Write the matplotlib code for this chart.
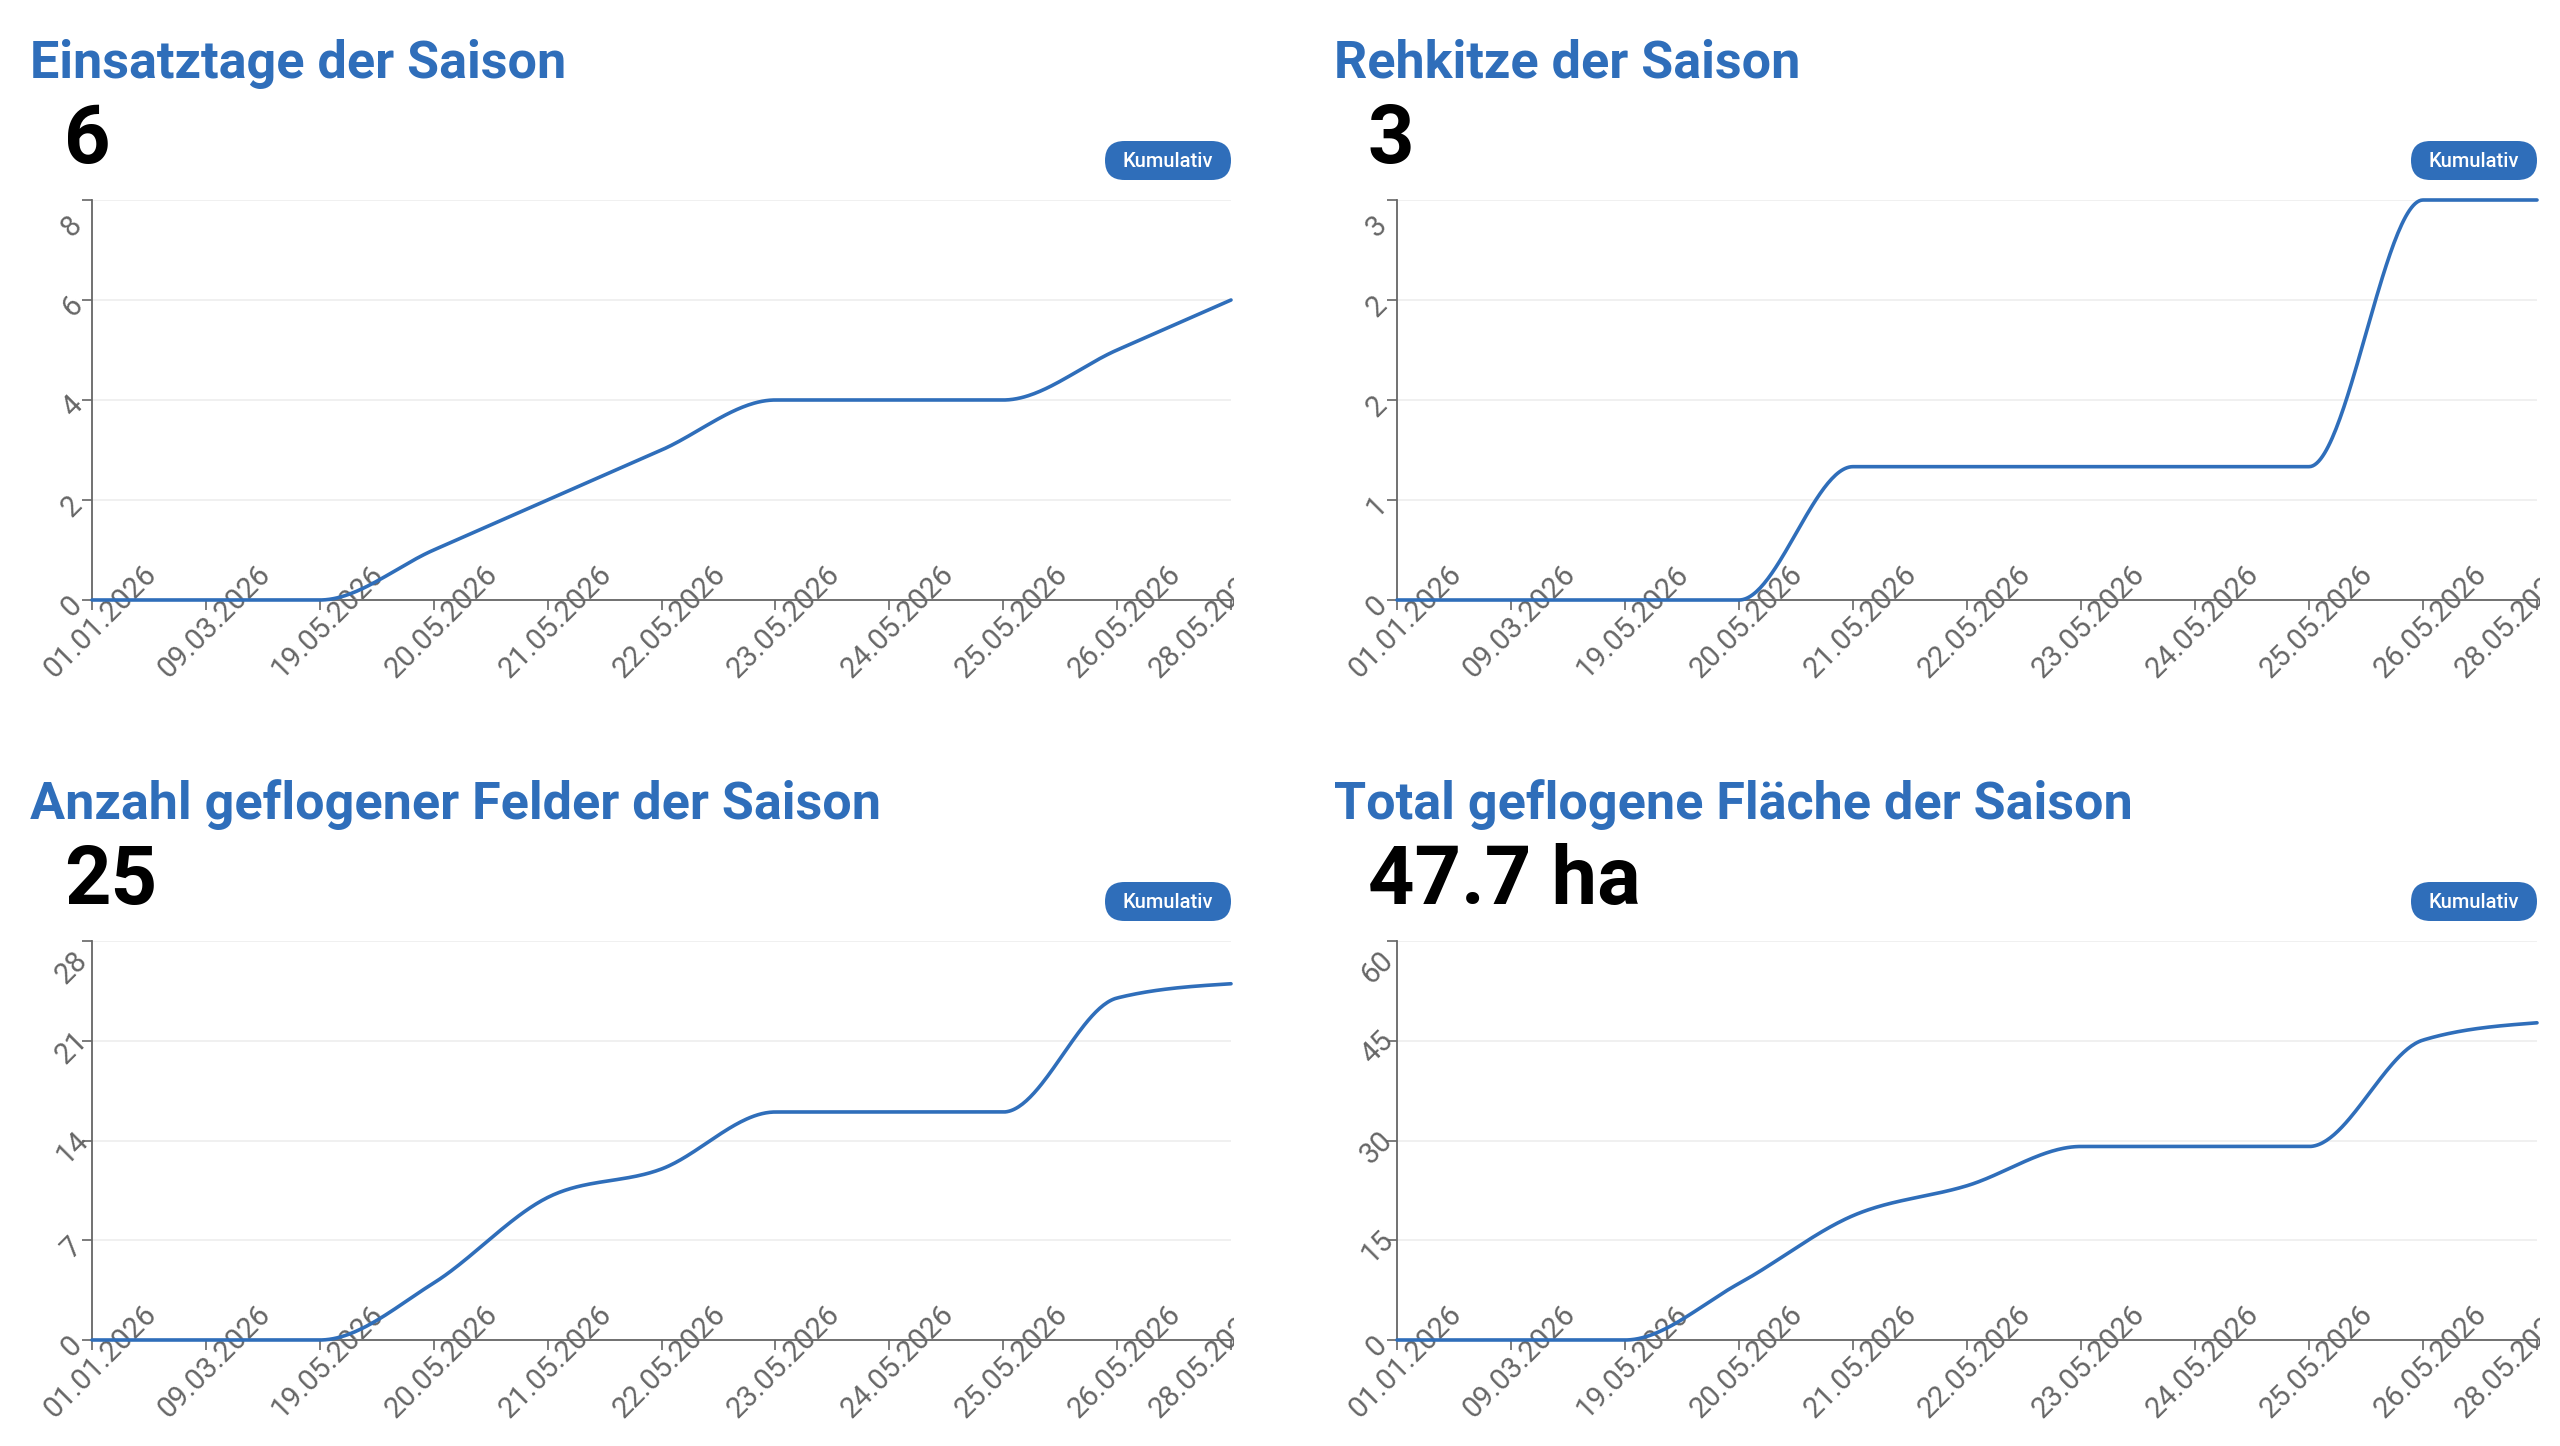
import numpy as np
import matplotlib
matplotlib.use("Agg")
import matplotlib.pyplot as plt
from matplotlib.patches import FancyBboxPatch
from matplotlib.transforms import ScaledTranslation, Bbox

plt.rcParams['font.family'] = ['Roboto', 'DejaVu Sans']

# x categories (point scale)
dates = ["01.01.2026", "09.03.2026", "19.05.2026", "20.05.2026", "21.05.2026", "22.05.2026",
         "23.05.2026", "24.05.2026", "25.05.2026", "26.05.2026", "28.05.2026"]

# cumulative series, one per panel
einsatztage = [0, 0, 0, 1, 2, 3, 4, 4, 4, 5, 6]
rehkitze = [0, 0, 0, 0, 1, 1, 1, 1, 1, 3, 3]
felder = [0, 0, 0, 4, 10, 12, 16, 16, 16, 24, 25]
flaeche = [0, 0, 0, 8.5, 18.7, 23.2, 29.1, 29.1, 29.1, 45.1, 47.7]

titles = ["Einsatztage der Saison", "Rehkitze der Saison",
          "Anzahl geflogener Felder der Saison", "Total geflogene Fläche der Saison"]
totals = ["6", "3", "25", "47.7 ha"]
buttonLabel = "Kumulativ"

einsatztageTicks = [0, 2, 4, 6, 8]
einsatztageTickLabels = ["0", "2", "4", "6", "8"]
rehkitzeTicks = [0, 0.75, 1.5, 2.25, 3]
rehkitzeTickLabels = ["0", "1", "2", "2", "3"]
felderTicks = [0, 7, 14, 21, 28]
felderTickLabels = ["0", "7", "14", "21", "28"]
flaecheTicks = [0, 15, 30, 45, 60]
flaecheTickLabels = ["0", "15", "30", "45", "60"]

W, H = 2560, 1446
DPI = 100
blue = "#2f6eba"
gray = "#666666"


def pxRect(left, top, right, bottom):
    return [left/W, 1-bottom/H, (right-left)/W, (bottom-top)/H]


#monotone cubic like d3.curveMonotoneX, only used to draw the line between the points
def monotoneCurve(x, y, samples=60):
    n = len(x)
    h = np.diff(x)
    s = np.diff(y)/h
    m = np.zeros(n)
    for i in range(1, n-1):
        p = (s[i-1]*h[i]+s[i]*h[i-1])/(h[i-1]+h[i])
        m[i] = (np.sign(s[i-1])+np.sign(s[i]))*min(abs(s[i-1]), abs(s[i]), 0.5*abs(p))
    m[0] = (3*s[0]-m[1])/2
    m[-1] = (3*s[-1]-m[-2])/2
    xs, ys = [], []
    t = np.linspace(0, 1, samples)
    h00 = 2*t**3-3*t**2+1
    h10 = t**3-2*t**2+t
    h01 = -2*t**3+3*t**2
    h11 = t**3-t**2
    for i in range(n-1):
        xs.append(x[i]+t*h[i])
        ys.append(h00*y[i]+h10*h[i]*m[i]+h01*y[i+1]+h11*h[i]*m[i+1])
    return np.concatenate(xs), np.concatenate(ys)


def drawPanel(fig, rect, values, ticks, tickLabels, clipRight):
    ax = fig.add_axes(pxRect(*rect))
    xIdx = np.arange(len(values))
    xs, ys = monotoneCurve(xIdx.astype(float), np.array(values, dtype=float))
    ax.plot(xs, ys, color=blue, lw=2.6, clip_on=False, zorder=4, solid_capstyle='round')

    ax.set_xlim(0, len(values)-1)
    ax.set_ylim(0, ticks[-1])
    ax.set_xticks(xIdx, dates)
    ax.set_yticks(ticks, tickLabels)

    for side in ['top', 'right']:
        ax.spines[side].set_visible(False)
    for side in ['left', 'bottom']:
        ax.spines[side].set_color(gray)
        ax.spines[side].set_linewidth(1.3)
        ax.spines[side].set_zorder(3)

    ax.yaxis.grid(True, color="#efefef", lw=1.3)
    ax.set_axisbelow(True)

    ax.tick_params(axis='x', length=7, width=1.2, color=gray, pad=8.8,
                   labelsize=21, labelcolor=gray)
    ax.tick_params(axis='y', length=7, width=1.2, color=gray, pad=7.4,
                   labelsize=21, labelcolor=gray)

    dpiTrans = fig.dpi_scale_trans
    xLabels = ax.get_xticklabels()
    for i, lab in enumerate(xLabels):
        lab.set_rotation(45)
        lab.set_ha('center')
        lab.set_va('center')
        lab.set_rotation_mode('anchor')
        #the last label sits a bit further left
        dx = -25 if i == len(xLabels)-1 else 8
        lab.set_transform(lab.get_transform()+ScaledTranslation(dx/DPI, 0, dpiTrans))
        #labels are cut at the edge of the panel
        lab.set_clip_box(Bbox.from_extents(0, 0, clipRight, H))
        lab.set_clip_on(True)
    yLabels = ax.get_yticklabels()
    for i, lab in enumerate(yLabels):
        lab.set_rotation(45)
        lab.set_ha('center')
        lab.set_va('center')
        lab.set_rotation_mode('anchor')
        down = 27 if i == len(yLabels)-1 else 7
        lab.set_transform(lab.get_transform()+ScaledTranslation(0, -down/DPI, dpiTrans))
    return ax


def drawHeader(canvas, left, top, title, total, buttonRight):
    canvas.text(left, top+78, title, color=blue, fontsize=37.5, fontweight='bold', va='baseline', ha='left')
    canvas.text(left+34, top+163, total, color='black', fontsize=58.5, fontweight='bold', va='baseline', ha='left')
    bw, bh = 126, 39
    bx, by = buttonRight-bw, top+141
    button = FancyBboxPatch((bx, by), bw, bh, boxstyle="round,pad=0,rounding_size=19.5",
                            fc=blue, ec='none')
    canvas.add_patch(button)
    canvas.text(bx+bw/2, by+bh/2+1, buttonLabel, color='white', fontsize=14.5, fontweight='medium',
                ha='center', va='center')


def main():
    fig = plt.figure(figsize=(W/DPI, H/DPI), dpi=DPI, facecolor='white')
    canvas = fig.add_axes([0, 0, 1, 1], zorder=-1)
    canvas.set_xlim(0, W)
    canvas.set_ylim(H, 0)
    canvas.axis('off')

    panels = [
        ((92, 200, 1231, 600), einsatztage, einsatztageTicks, einsatztageTickLabels),
        ((1397, 200, 2537, 600), rehkitze, rehkitzeTicks, rehkitzeTickLabels),
        ((92, 941, 1231, 1340), felder, felderTicks, felderTickLabels),
        ((1397, 941, 2537, 1340), flaeche, flaecheTicks, flaecheTickLabels),
    ]
    headerLeft = [30, 1334, 30, 1334]
    headerTop = [0, 0, 741, 741]

    for i, (rect, values, ticks, tickLabels) in enumerate(panels):
        drawPanel(fig, rect, values, ticks, tickLabels, rect[2]+3)
        drawHeader(canvas, headerLeft[i], headerTop[i], titles[i], totals[i], rect[2])

    fig.savefig("out.png", dpi=DPI, facecolor='white')


if __name__ == "__main__":
    main()
